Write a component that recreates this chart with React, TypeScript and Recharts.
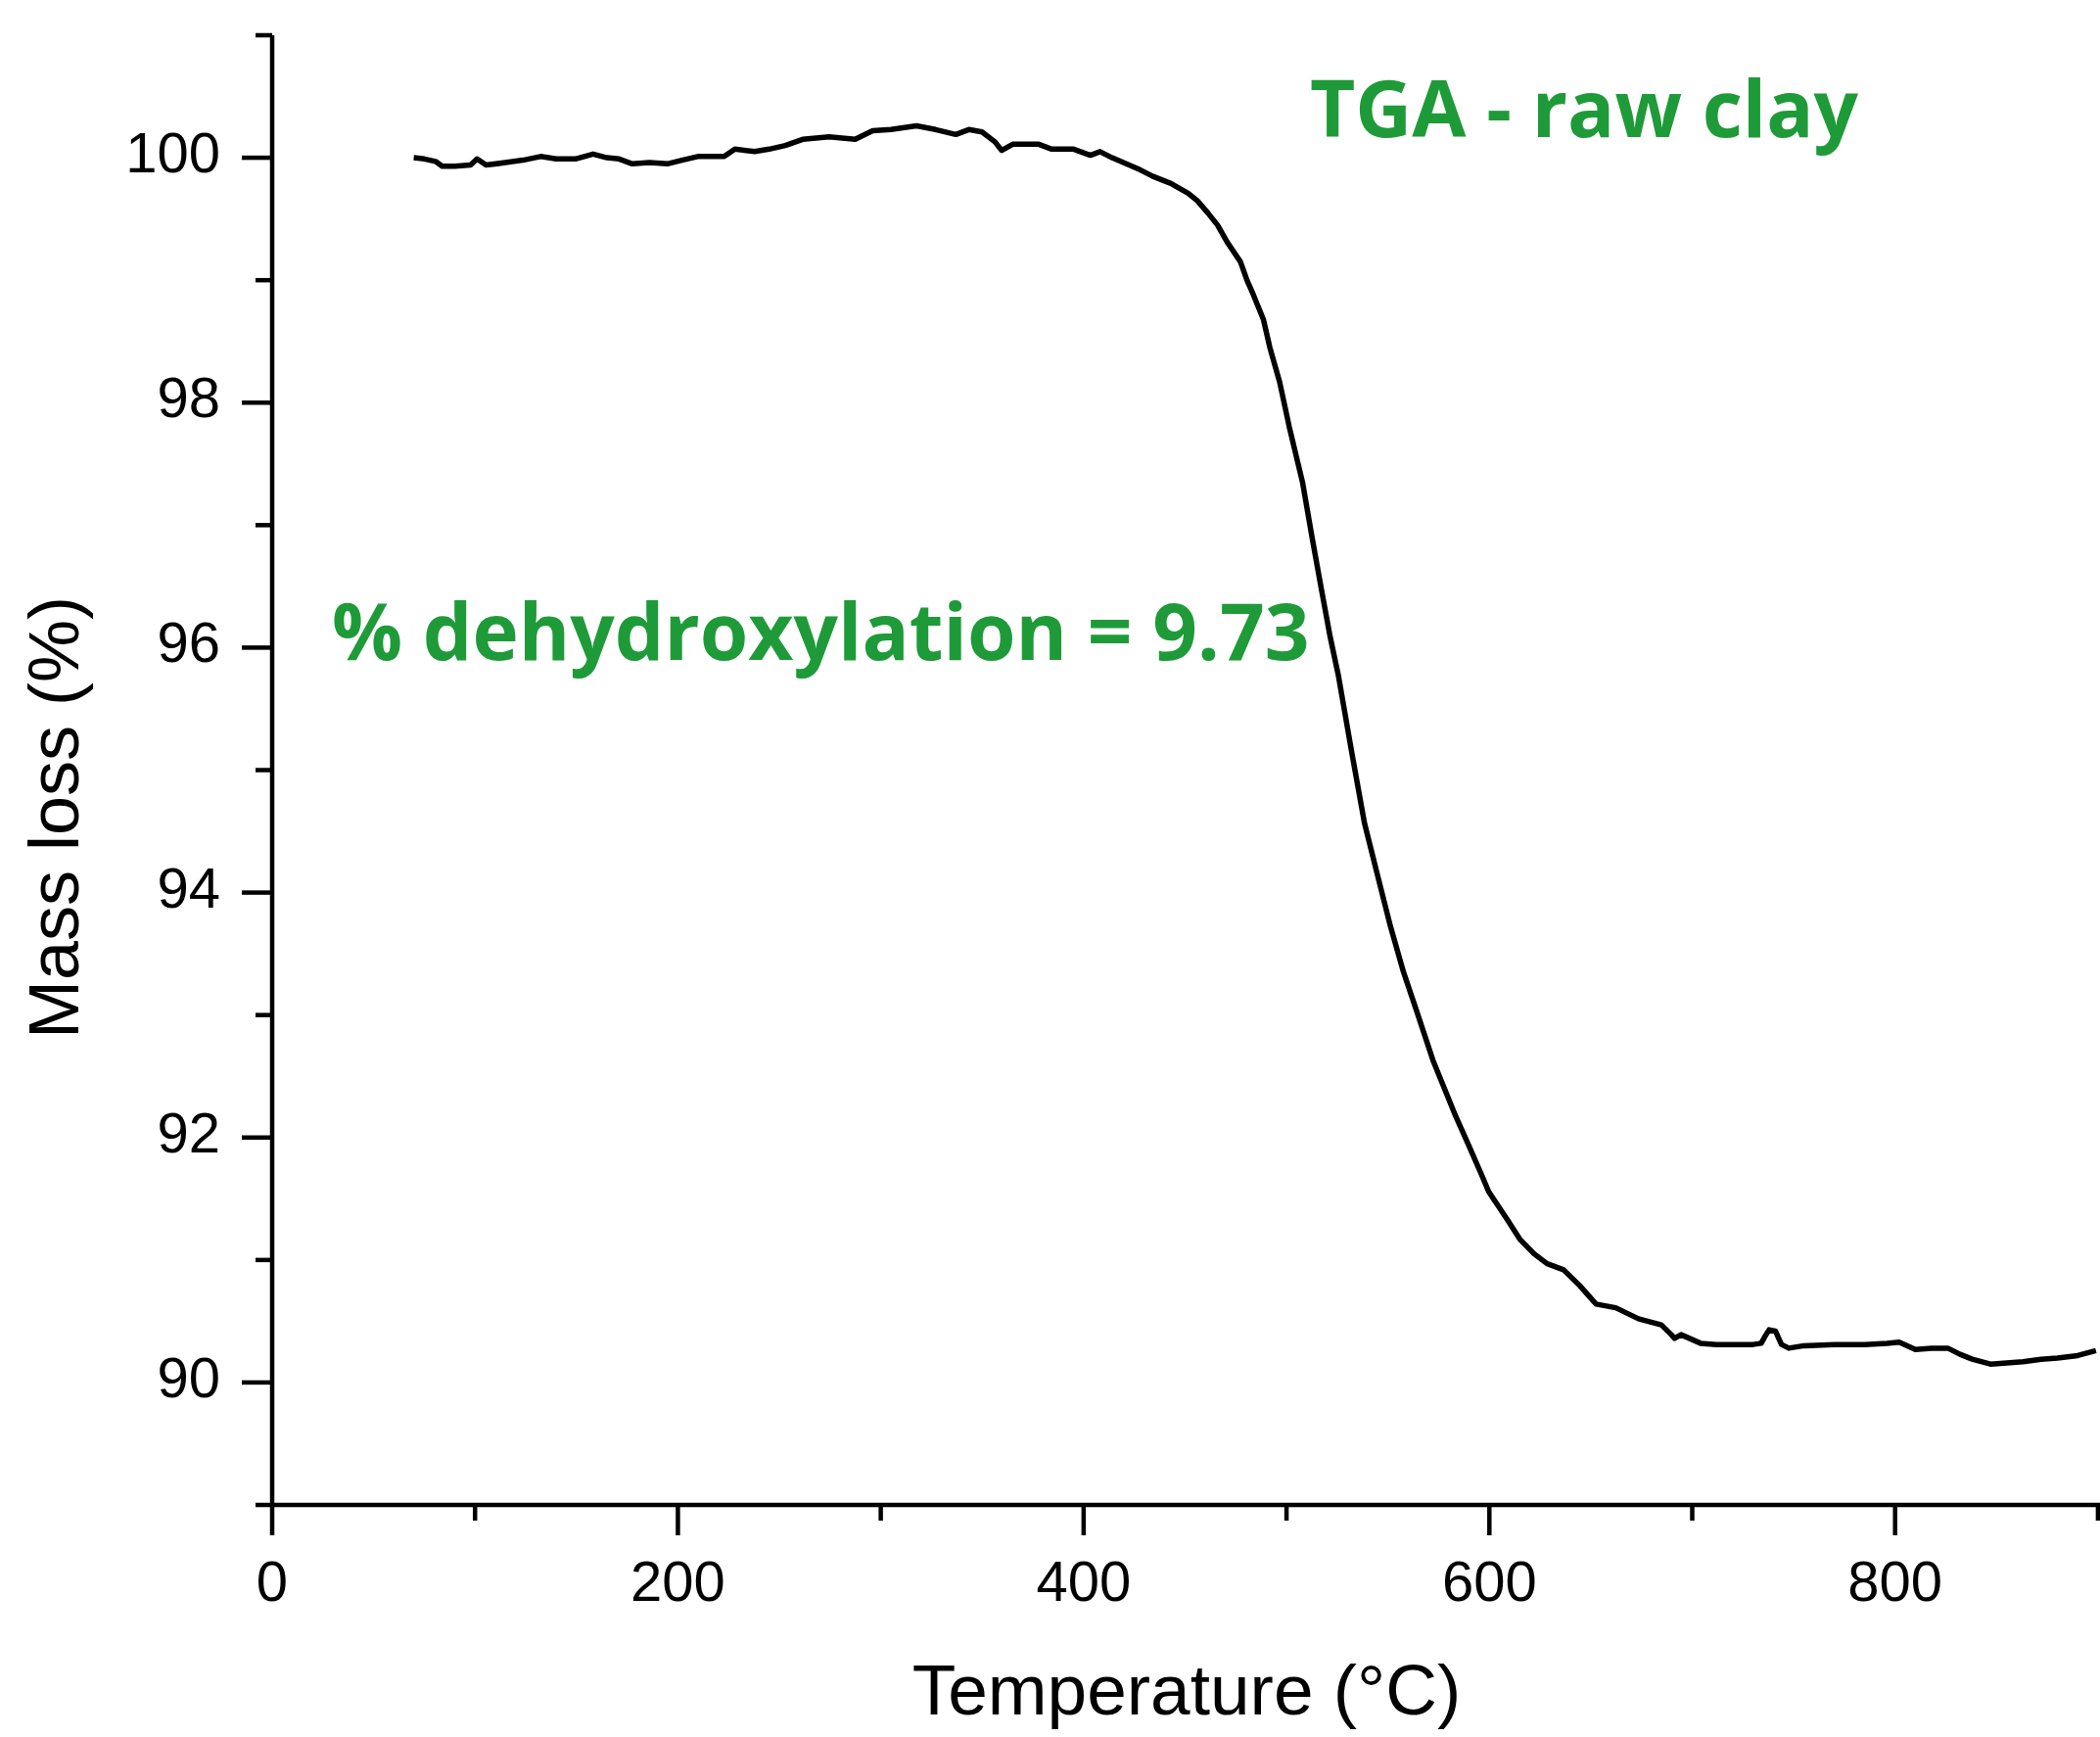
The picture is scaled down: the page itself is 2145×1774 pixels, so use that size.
import React from 'react';
import { LineChart, Line, XAxis, YAxis } from 'recharts';

// TGA trace of the raw clay
const TEMPERATURES = [
  69.8, 75, 80.5, 83.8, 90, 97.8, 101, 105.4, 115, 123.6, 132.3, 140, 149.5, 158.2, 165, 171, 177.5, 186, 194.8,
  202, 209.8, 222.8, 228.1, 237.8, 245, 252.9, 261.5, 274.5, 287.4, 296, 305, 317.6, 327, 337, 343.4, 349.9,
  356.3, 359.6, 365, 377.9, 384.3, 395.1, 403.3, 408.1, 414, 421, 428, 433.9, 443, 451.5, 456, 461.2, 466,
  470.8, 477.3, 480.5, 483.7, 488.6, 491.8, 496.6, 501.4, 507.9, 512.7, 517.5, 521.5, 525.6, 532, 538.4,
  544.9, 551.3, 557.7, 564.2, 572.2, 583.5, 590, 596.3, 599.6, 609.2, 615, 622.1, 628.5, 636.6, 644.6, 652.6,
  662.3, 673.5, 684.8, 689.7, 691.3, 694.5, 704.1, 712, 721.8, 730, 734, 736, 737.9, 741, 744, 747.6, 755,
  770, 785, 796, 802, 806, 810, 818, 826, 832, 838, 847, 855, 863, 872, 880, 890, 899,
];
const MASS_LOSS = [
  100.0, 99.99, 99.97, 99.93, 99.93, 99.94, 99.99, 99.94, 99.96, 99.98, 100.01, 99.99, 99.99, 100.03, 100.0,
  99.99, 99.95, 99.96, 99.95, 99.98, 100.01, 100.01, 100.07, 100.05, 100.07, 100.1, 100.15, 100.17, 100.15,
  100.22, 100.23, 100.26, 100.23, 100.19, 100.23, 100.21, 100.13, 100.06, 100.11, 100.11, 100.07, 100.07,
  100.02, 100.05, 100.0, 99.95, 99.9, 99.85, 99.79, 99.71, 99.65, 99.55, 99.45, 99.31, 99.15, 99.0, 98.88,
  98.68, 98.45, 98.17, 97.8, 97.35, 96.89, 96.45, 96.09, 95.77, 95.16, 94.57, 94.14, 93.72, 93.35, 93.03,
  92.63, 92.17, 91.93, 91.69, 91.56, 91.32, 91.17, 91.05, 90.97, 90.92, 90.79, 90.64, 90.61, 90.52, 90.47,
  90.39, 90.36, 90.39, 90.32, 90.31, 90.31, 90.31, 90.32, 90.38, 90.43, 90.42, 90.31, 90.28, 90.3, 90.31,
  90.31, 90.32, 90.33, 90.3, 90.27, 90.28, 90.28, 90.23, 90.19, 90.15, 90.16, 90.17, 90.19, 90.2, 90.22, 90.26,
];

const X_TICKS = [0, 100, 200, 300, 400, 500, 600, 700, 800, 900];
const Y_TICKS = [89, 90, 91, 92, 93, 94, 95, 96, 97, 98, 99, 100, 101];

const data = TEMPERATURES.map((t, i) => ({ t, m: MASS_LOSS[i] }));

const AXIS_FONT = '"Liberation Sans", Arial, sans-serif';
const NOTE_FONT = '"Open Sans", "Noto Sans", sans-serif';
const GREEN = '#1e9b38';

const XTick = (props: any) => {
  const { x, y, payload } = props;
  const v = payload.value;
  const major = v % 200 === 0;
  return (
    <g>
      <line x1={x} x2={x} y1={y} y2={y + (major ? 31 : 16)} stroke="#000" strokeWidth={4.5} />
      {major && v < 900 && (
        <text x={x} y={y + 98} textAnchor="middle" fontSize={58} fontFamily={AXIS_FONT} fill="#000">
          {v}
        </text>
      )}
    </g>
  );
};

const YTick = (props: any) => {
  const { x, y, payload } = props;
  const v = payload.value;
  const major = v % 2 === 0;
  return (
    <g>
      <line x1={x} x2={x - (major ? 31 : 17)} y1={y} y2={y} stroke="#000" strokeWidth={4.5} />
      {major && (
        <text x={x - 53} y={y + 15} textAnchor="end" fontSize={58} fontFamily={AXIS_FONT} fill="#000">
          {v}
        </text>
      )}
    </g>
  );
};

export default function App() {
  return (
    <div style={{ position: 'absolute', left: 0, top: 0, width: 2145, height: 1774, background: '#fff' }}>
      <LineChart width={2145} height={1774} data={data} margin={{ top: 36, right: 0, bottom: 0, left: 0 }}>
        <XAxis
          type="number"
          dataKey="t"
          domain={[0, 901]}
          ticks={X_TICKS}
          interval={0}
          allowDataOverflow
          height={237}
          tickSize={0}
          tickMargin={0}
          tickLine={false}
          axisLine={{ stroke: '#000', strokeWidth: 4.5 }}
          tick={XTick}
        />
        <YAxis
          type="number"
          domain={[89, 101]}
          ticks={Y_TICKS}
          interval={0}
          allowDataOverflow
          width={278}
          tickSize={0}
          tickMargin={0}
          tickLine={false}
          axisLine={{ stroke: '#000', strokeWidth: 4.5 }}
          tick={YTick}
        />
        <Line
          type="linear"
          dataKey="m"
          stroke="#000"
          strokeWidth={5.5}
          strokeLinejoin="round"
          dot={false}
          isAnimationActive={false}
        />
      </LineChart>
      <svg
        width={2145}
        height={1774}
        style={{ position: 'absolute', left: 0, top: 0, pointerEvents: 'none' }}
      >
        <text
          x={1212}
          y={1751}
          textAnchor="middle"
          fontSize={73}
          fontFamily={AXIS_FONT}
          fill="#000"
        >
          Temperature (°C)
        </text>
        <text
          transform="translate(80, 835) rotate(-90)"
          textAnchor="middle"
          fontSize={72}
          fontFamily={AXIS_FONT}
          fill="#000"
        >
          Mass loss (%)
        </text>
        <text x={1338} y={140} fontSize={80} fontWeight={700} fontFamily={NOTE_FONT} fill={GREEN}>
          TGA - raw clay
        </text>
        <text x={339} y={674} fontSize={80} fontWeight={700} fontFamily={NOTE_FONT} fill={GREEN}>
          % dehydroxylation = 9.73
        </text>
      </svg>
    </div>
  );
}
